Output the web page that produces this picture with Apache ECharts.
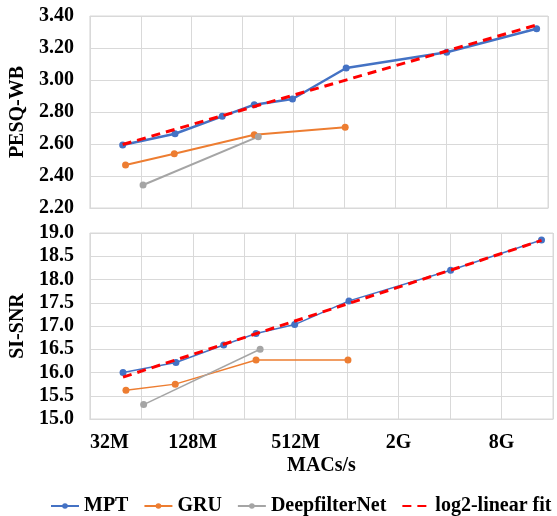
<!DOCTYPE html>
<html>
<head>
<meta charset="utf-8">
<script src="https://cdn.jsdelivr.net/npm/echarts@6/dist/echarts.min.js"></script>
<style>
  html, body { margin: 0; padding: 0; background: #fff; }
  #chart { width: 557px; height: 516px; }
</style>
</head>
<body>
<div id="chart"></div>
<script>
// MACs/s in millions (x axis, log2 scale)
var macsMPT = [50, 102, 194, 300, 505, 1049, 4125, 14035];
var macsGRU = [52, 101, 300, 1035];
var macsDFN = [66, 317];
var macsFit = [50, 14035];

// PESQ-WB (top panel)
var pesqMPT = [2.594, 2.664, 2.773, 2.846, 2.881, 3.075, 3.173, 3.320];
var pesqGRU = [2.469, 2.539, 2.658, 2.704];
var pesqDFN = [2.344, 2.646];
var pesqFit = [2.597, 3.344];

// SI-SNR (bottom panel)
var snrMPT = [16.00, 16.215, 16.59, 16.84, 17.03, 17.54, 18.20, 18.85];
var snrGRU = [15.62, 15.75, 16.27, 16.27];
var snrDFN = [15.31, 16.50];
var snrFit = [15.90, 18.84];

// x tick labels
var xTickValues = [32, 128, 512, 2048, 8192];
var xTickLabels = ["32M", "128M", "512M", "2G", "8G"];

var FONT = "Liberation Serif";
var GRID = "#d9d9d9";

function pairs(xs, ys) {
  return xs.map(function (x, i) { return [x, ys[i]]; });
}

var labelMap = {};
xTickValues.forEach(function (v, i) { labelMap[v] = xTickLabels[i]; });

function xAxisFor(gridIndex, showLabels) {
  return {
    type: "log",
    logBase: 2,
    gridIndex: gridIndex,
    min: 32,
    max: 16384,
    splitNumber: 9,
    axisLine: { show: true, lineStyle: { color: GRID } },
    axisTick: { show: false },
    splitLine: { show: true, lineStyle: { color: GRID, width: 1 } },
    axisLabel: {
      show: showLabels,
      interval: 0,
      margin: 14,
      alignMinLabel: "left",
      fontFamily: FONT,
      fontWeight: "bold",
      fontSize: 20,
      color: "#000",
      formatter: function (v) {
        var k = Math.round(v);
        return labelMap[k] || "";
      }
    },
    name: showLabels ? "MACs/s" : "",
    nameLocation: "middle",
    nameGap: 37,
    nameTextStyle: { fontFamily: FONT, fontWeight: "bold", fontSize: 20, color: "#000" }
  };
}

function yAxisFor(gridIndex, name, min, max, interval, digits) {
  return {
    type: "value",
    gridIndex: gridIndex,
    min: min,
    max: max,
    interval: interval,
    name: name,
    nameLocation: "middle",
    nameGap: 54,
    nameTextStyle: { fontFamily: FONT, fontWeight: "bold", fontSize: 20, color: "#000" },
    axisLine: { show: false },
    axisTick: { show: false },
    splitLine: { show: true, lineStyle: { color: GRID, width: 1 } },
    axisLabel: {
      margin: 16,
      fontFamily: FONT,
      fontWeight: "bold",
      fontSize: 20,
      color: "#000",
      formatter: function (v) { return v.toFixed(digits); }
    }
  };
}

function lineSeries(name, idx, data, color, width) {
  return {
    name: name,
    type: "line",
    xAxisIndex: idx,
    yAxisIndex: idx,
    data: data,
    symbol: "circle",
    symbolSize: 7,
    color: color,
    lineStyle: { color: color, width: width },
    itemStyle: { color: color },
    animation: false
  };
}

function fitSeries(idx, data) {
  return {
    name: "log2-linear fit",
    type: "line",
    xAxisIndex: idx,
    yAxisIndex: idx,
    data: data,
    symbol: "none",
    color: "#ff0000",
    lineStyle: { color: "#ff0000", width: 3, type: [9, 6] },
    z: 5,
    animation: false
  };
}

var chart = echarts.init(document.getElementById("chart"));
chart.setOption({
  animation: false,
  grid: [
    { left: 86, top: 16, width: 462, height: 192, show: true, borderColor: GRID, borderWidth: 1 },
    { left: 86, top: 233, width: 467, height: 186, show: true, borderColor: GRID, borderWidth: 1 }
  ],
  xAxis: [xAxisFor(0, false), xAxisFor(1, true)],
  yAxis: [
    yAxisFor(0, "PESQ-WB", 2.2, 3.4, 0.2, 2),
    yAxisFor(1, "SI-SNR", 15, 19, 0.5, 1)
  ],
  legend: {
    data: [
      "MPT",
      "GRU",
      "DeepfilterNet",
      { name: "log2-linear fit", itemStyle: { opacity: 0 } }
    ],
    left: 50,
    top: 496,
    width: 560,
    padding: 0,
    itemWidth: 28,
    itemHeight: 7,
    itemGap: 15,
    textStyle: { fontFamily: FONT, fontWeight: "bold", fontSize: 20, color: "#000" }
  },
  series: [
    lineSeries("MPT", 0, pairs(macsMPT, pesqMPT), "#4472c4", 2.5),
    lineSeries("GRU", 0, pairs(macsGRU, pesqGRU), "#ed7d31", 2),
    lineSeries("DeepfilterNet", 0, pairs(macsDFN, pesqDFN), "#a5a5a5", 2),
    fitSeries(0, pairs(macsFit, pesqFit)),
    lineSeries("MPT", 1, pairs(macsMPT, snrMPT), "#4472c4", 1.5),
    lineSeries("GRU", 1, pairs(macsGRU, snrGRU), "#ed7d31", 1.5),
    lineSeries("DeepfilterNet", 1, pairs(macsDFN, snrDFN), "#a5a5a5", 1.5),
    fitSeries(1, pairs(macsFit, snrFit))
  ]
});
</script>
</body>
</html>
